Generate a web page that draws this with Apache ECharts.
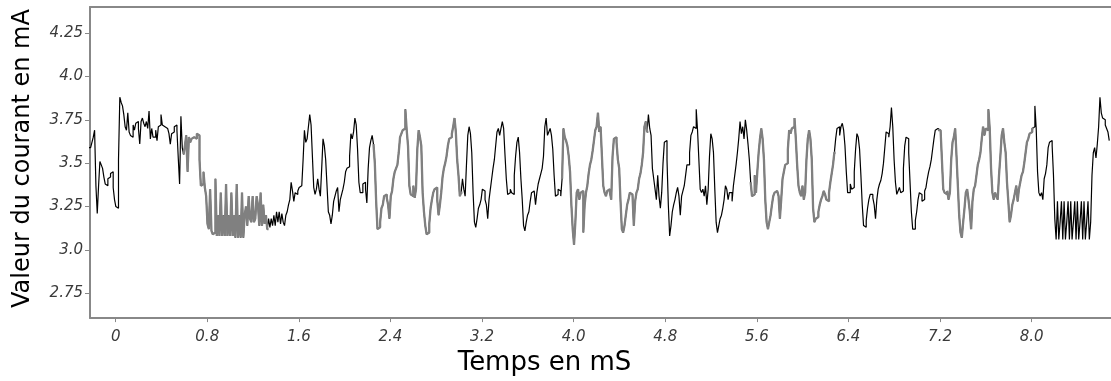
<!DOCTYPE html>
<html>
<head>
<meta charset="utf-8">
<script src="https://cdn.jsdelivr.net/npm/echarts@6/dist/echarts.min.js"></script>
<style>
html,body{margin:0;padding:0;background:#fff;overflow:hidden;}
#chart{width:1111px;height:381px;}
</style>
</head>
<body>
<div id="chart"></div>
<script>
// Sampled current (mA), one value per sample; sample grid in ms
const sampleStart = -0.2419;   // ms
const samplePeriod = 0.011599; // ms

const seg1 = [3.59,3.59,3.59,3.62,3.65,3.69,3.37,3.21,3.37,3.51,
3.49,3.47,3.42,3.38,3.37,3.41,3.42,3.44,3.45,3.36,
3.29,3.25,3.24,3.52,3.88,3.85,3.83,3.78,3.71,3.69,
3.79,3.68,3.66,3.65,3.72,3.69,3.73,3.74,3.70,3.61,
3.74,3.76,3.73,3.71,3.74,3.70,3.80,3.64,3.70,3.65,
3.65,3.69,3.63,3.71,3.72,3.78,3.72,3.71,3.70,3.70,
3.69,3.67,3.61,3.67,3.68,3.71,3.72,3.69,3.53,3.38,
3.77,3.59,3.55,3.60,3.66,3.45,3.65,3.62,3.64,3.65,
3.66,3.64,3.67,3.66,3.52,3.37,3.38,3.45,3.36,3.31,
3.15,3.12,3.35,3.11,3.09,3.10,3.41,3.08,3.20,3.08,
3.33,3.08,3.20,3.08,3.38,3.08,3.20,3.08,3.33,3.08,
3.20,3.07,3.38,3.07,3.20,3.07,3.33,3.07,3.20,3.25,
3.14,3.31,3.18,3.16,3.31,3.16,3.18,3.31];

const seg2 = [3.26,3.14,3.33,3.14,3.26,3.15,3.20,3.12,3.18,3.13,
3.18,3.14,3.20,3.14,3.22,3.16,3.22,3.15,3.21,3.16,
3.14,3.20,3.22,3.26,3.29,3.39,3.34,3.28,3.33,3.32,
3.34,3.36,3.37,3.36,3.52,3.69,3.62,3.64,3.71,3.78,
3.72,3.54,3.36,3.32,3.35,3.41,3.35,3.31,3.47,3.64,
3.60,3.52,3.37,3.22,3.20,3.15,3.20,3.28,3.31,3.34,
3.36,3.22,3.29,3.32,3.35,3.39,3.45,3.47,3.48,3.54,
3.67,3.64,3.68,3.76,3.72,3.58,3.39,3.33,3.33,3.38,
3.39,3.35,3.27,3.47,3.59,3.63,3.66,3.61,3.50,3.28,
3.12,3.13,3.16,3.24,3.26,3.31,3.32,3.30,3.26,3.18,
3.31,3.34,3.41,3.45,3.47,3.49,3.56,3.65,3.67,3.69,
3.70,3.81,3.69,3.60,3.37,3.32,3.31,3.37,3.30,3.35,
3.58,3.69,3.65,3.60,3.33,3.22,3.14,3.09];

const seg3 = [3.10,3.15,3.24,3.29,3.33,3.35,3.36,3.29,3.20,3.26,
3.33,3.42,3.47,3.50,3.54,3.60,3.64,3.65,3.67,3.71,
3.76,3.68,3.52,3.43,3.31,3.33,3.41,3.35,3.31,3.49,
3.66,3.71,3.67,3.56,3.33,3.16,3.13,3.18,3.24,3.26,
3.29,3.35,3.34,3.29,3.26,3.18,3.29,3.35,3.41,3.47,
3.52,3.60,3.68,3.70,3.66,3.70,3.74,3.70,3.55,3.41,
3.32,3.33,3.35,3.33,3.32,3.43,3.54,3.62,3.65,3.56,
3.41,3.29,3.14,3.11,3.16,3.20,3.22,3.28,3.33,3.34,
3.33,3.26,3.33,3.38,3.41,3.44,3.47,3.54,3.71,3.76,
3.66,3.68,3.70,3.66,3.58,3.43,3.31,3.32,3.35,3.34,
3.31,3.41,3.70,3.65,3.63,3.60,3.54,3.45,3.26,3.12,
3.03,3.16,3.33,3.35,3.29,3.33,3.34,3.10,3.26,3.33,
3.37,3.44,3.49,3.52,3.57,3.63,3.69,3.71];

const seg4 = [3.79,3.68,3.71,3.54,3.37,3.33,3.31,3.34,3.35,3.33,
3.29,3.54,3.64,3.65,3.62,3.52,3.47,3.28,3.12,3.10,
3.14,3.20,3.26,3.29,3.33,3.32,3.33,3.14,3.28,3.33,
3.35,3.41,3.44,3.49,3.56,3.71,3.74,3.68,3.78,3.70,
3.66,3.47,3.41,3.35,3.29,3.43,3.31,3.24,3.33,3.50,
3.62,3.63,3.52,3.26,3.08,3.14,3.22,3.26,3.29,3.33,
3.36,3.31,3.20,3.31,3.34,3.37,3.43,3.49,3.49,3.56,
3.66,3.68,3.71,3.70,3.81,3.69,3.52,3.35,3.33,3.35,
3.31,3.37,3.26,3.35,3.54,3.67,3.64,3.56,3.35,3.16,
3.10,3.14,3.18,3.20,3.24,3.29,3.37,3.35,3.29,3.33,
3.33,3.28,3.37,3.43,3.49,3.56,3.64,3.74,3.67,3.71,
3.64,3.75,3.69,3.61,3.52,3.39,3.31,3.32,3.43,3.33,
3.45,3.56,3.64,3.70,3.64,3.52,3.29,3.16];

const seg5 = [3.12,3.16,3.20,3.26,3.31,3.33,3.34,3.35,3.31,3.18,
3.29,3.41,3.45,3.49,3.50,3.58,3.69,3.67,3.70,3.71,
3.76,3.64,3.49,3.37,3.33,3.31,3.37,3.29,3.33,3.52,
3.64,3.69,3.64,3.52,3.24,3.16,3.18,3.19,3.22,3.26,
3.29,3.31,3.34,3.32,3.29,3.28,3.33,3.39,3.44,3.49,
3.56,3.64,3.70,3.71,3.66,3.71,3.73,3.69,3.60,3.45,
3.33,3.33,3.38,3.35,3.36,3.45,3.58,3.67,3.65,3.58,
3.43,3.26,3.14,3.13,3.17,3.24,3.29,3.32,3.32,3.30,
3.26,3.18,3.29,3.35,3.38,3.40,3.44,3.50,3.59,3.68,
3.67,3.65,3.71,3.82,3.71,3.52,3.39,3.32,3.34,3.36,
3.33,3.34,3.47,3.60,3.65,3.64,3.56,3.39,3.22,3.12,
3.12,3.17,3.22,3.29,3.33,3.32,3.28,3.29,3.34,3.36,
3.41,3.45,3.48,3.52,3.58,3.64,3.69,3.70];

const seg6 = [3.69,3.69,3.70,3.52,3.35,3.33,3.32,3.34,3.29,3.33,
3.52,3.62,3.65,3.70,3.54,3.37,3.20,3.10,3.07,3.16,
3.24,3.33,3.35,3.29,3.22,3.12,3.28,3.35,3.37,3.43,
3.49,3.52,3.56,3.64,3.71,3.66,3.70,3.69,3.81,3.70,
3.47,3.33,3.29,3.33,3.31,3.29,3.43,3.54,3.66,3.70,
3.62,3.56,3.39,3.28,3.16,3.20,3.26,3.29,3.33,3.37,
3.28,3.35,3.39,3.43,3.45,3.50,3.56,3.62,3.64,3.67,
3.68,3.70,3.71,3.83,3.70,3.45,3.33,3.31,3.33,3.29,
3.41,3.44,3.49,3.59,3.62,3.63,3.60,3.43,3.18,3.06,
3.28,3.06,3.16,3.28,3.06,3.28,3.06,3.16,3.28,3.06,
3.28,3.06,3.16,3.28,3.06,3.28,3.06,3.16,3.28,3.06,
3.28,3.06,3.16,3.28,3.06,3.16,3.43,3.56,3.59,3.53,
3.61,3.71,3.88,3.79,3.76,3.75,3.72,3.70,3.68,3.63];

// time ranges (ms) drawn in grey
const grayRanges = [[0.582,1.324],[2.247,3.018],[3.892,4.649],[5.537,6.279],[7.173,8.012]];

const xTickValues = [0,0.8,1.6,2.4,3.2,4.0,4.8,5.6,6.4,7.2,8.0];
const xTickLabels = ['0','0.8','1.6','2.4','3.2','4.0','4.8','5.6','6.4','7.2','8.0'];
const yTickValues = [2.75,3.0,3.25,3.5,3.75,4.0,4.25];
const yTickLabels = ['2.75','3.0','3.25','3.5','3.75','4.0','4.25'];

const current = [].concat(seg1,seg2,seg3,seg4,seg5,seg6);
const blackData = current.map((v,i)=>[sampleStart + i*samplePeriod, v]);
const inGray = t => grayRanges.some(r => t >= r[0] && t <= r[1]);
const grayData = blackData.map(p => inGray(p[0]) ? p : [p[0], '-']);

function lab(vals, labels){
  return v => { for (let k=0;k<vals.length;k++) if (Math.abs(vals[k]-v)<1e-6) return labels[k]; return ''; };
}

const X_MIN = -0.224, X_MAX = 8.693;
const chart = echarts.init(document.getElementById('chart'), null, {renderer:'canvas'});
chart.setOption({
  animation:false,
  backgroundColor:'#fff',
  grid:{left:90, top:7, right:0, bottom:61, show:false},
  xAxis:[{
    type:'value', min:X_MIN, max:X_MAX,
    name:'Temps en mS', nameLocation:'middle', nameGap:27,
    nameTextStyle:{fontFamily:'DejaVu Sans', fontSize:26, color:'#000', padding:[0,112,0,0]},
    axisLine:{onZero:false, lineStyle:{color:'#888', width:2}},
    axisTick:{show:true, length:4, lineStyle:{color:'#888'}, customValues:xTickValues},
    axisLabel:{customValues:xTickValues, formatter:lab(xTickValues,xTickLabels), margin:12,
      fontFamily:'DejaVu Sans', fontStyle:'italic', fontSize:15, color:'#3a3a3a'},
    splitLine:{show:false}
  },{
    type:'value', min:X_MIN, max:X_MAX, position:'top',
    axisLine:{show:true, onZero:false, lineStyle:{color:'#888', width:2}},
    axisTick:{show:false}, axisLabel:{show:false}, splitLine:{show:false}
  }],
  yAxis:{
    type:'value', min:2.607, max:4.40,
    name:'Valeur du courant en mA', nameLocation:'middle', nameGap:55, nameRotate:90,
    nameTextStyle:{fontFamily:'DejaVu Sans', fontSize:24, color:'#000', padding:[0,0,0,8]},
    axisLine:{show:true, onZero:false, lineStyle:{color:'#888', width:2}},
    axisTick:{show:true, length:5, lineStyle:{color:'#888'}, customValues:yTickValues},
    axisLabel:{customValues:yTickValues, formatter:lab(yTickValues,yTickLabels), margin:7,
      fontFamily:'DejaVu Sans', fontStyle:'italic', fontSize:15, color:'#3a3a3a'},
    splitLine:{show:false}
  },
  series:[
    {type:'line', data:blackData, step:'end', symbol:'none', silent:true,
      lineStyle:{color:'#000', width:1.2}, z:2},
    {type:'line', data:grayData, step:'end', symbol:'none', silent:true, connectNulls:false,
      lineStyle:{color:'#808080', width:2.3}, z:3}
  ]
});
</script>
</body>
</html>
